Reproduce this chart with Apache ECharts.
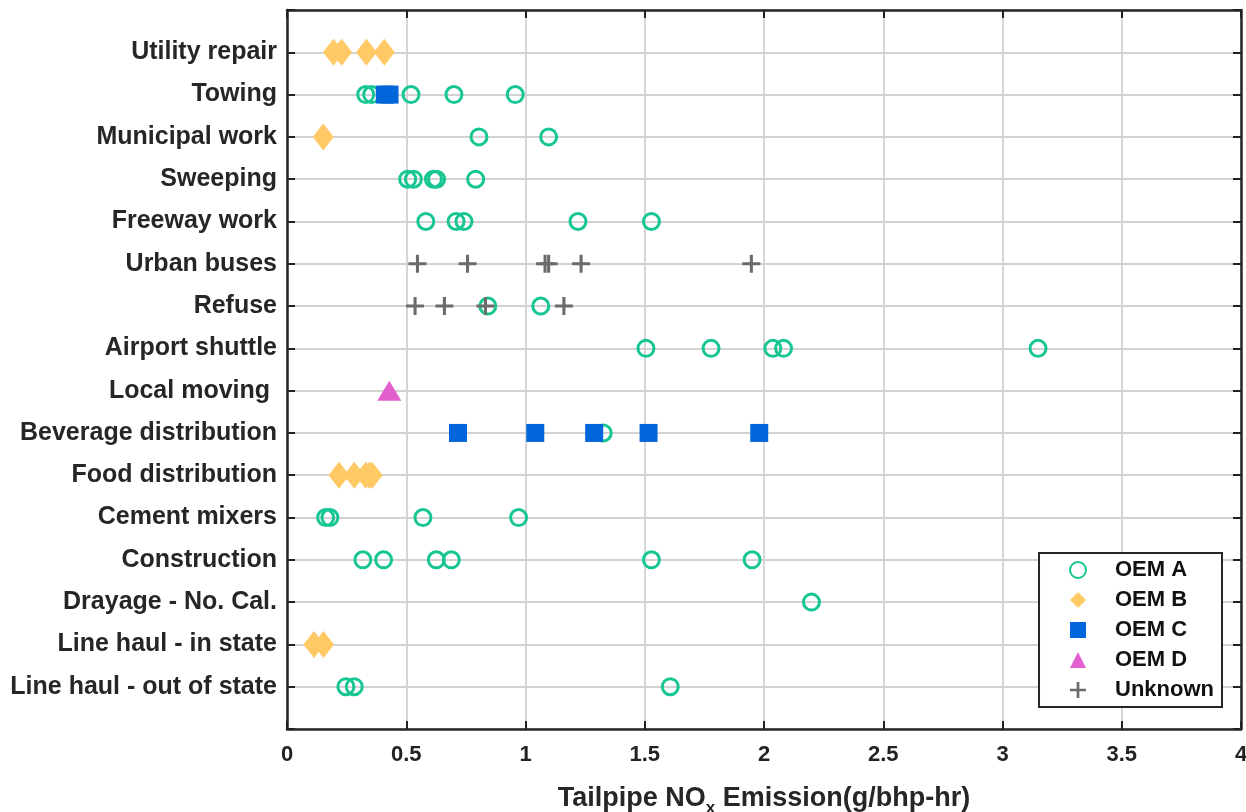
<!DOCTYPE html>
<html>
<head>
<meta charset="utf-8">
<script src="https://cdn.jsdelivr.net/npm/echarts@6/dist/echarts.min.js"></script>
<style>html,body{margin:0;padding:0;background:#fff}#c{width:1246px;height:812px}</style>
</head>
<body>
<div id="c"></div>
<script>
// Categories, top to bottom
const categories = [
  'Utility repair','Towing','Municipal work','Sweeping','Freeway work','Urban buses','Refuse',
  'Airport shuttle','Local moving ','Beverage distribution','Food distribution','Cement mixers',
  'Construction','Drayage - No. Cal.','Line haul - in state','Line haul - out of state'
];
const xTicks = [0, 0.5, 1, 1.5, 2, 2.5, 3, 3.5, 4];

// [category, NOx g/bhp-hr]
const oemA = [
  ['Towing',0.33],['Towing',0.355],['Towing',0.52],['Towing',0.70],['Towing',0.957],
  ['Municipal work',0.805],['Municipal work',1.097],
  ['Sweeping',0.506],['Sweeping',0.53],['Sweeping',0.614],['Sweeping',0.627],['Sweeping',0.791],
  ['Freeway work',0.582],['Freeway work',0.709],['Freeway work',0.742],['Freeway work',1.22],['Freeway work',1.528],
  ['Refuse',0.842],['Refuse',1.064],
  ['Airport shuttle',1.505],['Airport shuttle',1.778],['Airport shuttle',2.037],['Airport shuttle',2.082],['Airport shuttle',3.149],
  ['Beverage distribution',1.326],
  ['Cement mixers',0.162],['Cement mixers',0.18],['Cement mixers',0.57],['Cement mixers',0.971],
  ['Construction',0.318],['Construction',0.405],['Construction',0.626],['Construction',0.689],['Construction',1.528],['Construction',1.95],
  ['Drayage - No. Cal.',2.199],
  ['Line haul - out of state',0.247],['Line haul - out of state',0.282],['Line haul - out of state',1.607]
];
const oemB = [
  ['Utility repair',0.195],['Utility repair',0.229],['Utility repair',0.333],['Utility repair',0.408],
  ['Municipal work',0.152],
  ['Food distribution',0.218],['Food distribution',0.282],['Food distribution',0.33],['Food distribution',0.345],['Food distribution',0.357],
  ['Line haul - in state',0.113],['Line haul - in state',0.153]
];
const oemC = [
  ['Towing',0.41],['Towing',0.43],
  ['Beverage distribution',0.717],['Beverage distribution',1.041],['Beverage distribution',1.288],
  ['Beverage distribution',1.516],['Beverage distribution',1.98]
];
const oemD = [
  ['Local moving ',0.429]
];
const unknown = [
  ['Urban buses',0.547],['Urban buses',0.757],['Urban buses',1.082],['Urban buses',1.097],['Urban buses',1.233],['Urban buses',1.947],
  ['Refuse',0.537],['Refuse',0.66],['Refuse',0.832],['Refuse',1.161]
];

const N = categories.length;
const toPts = arr => arr.map(([c, v]) => [v, N - categories.indexOf(c)]);

const plusPath = 'path://M41.5,0H58.5V41.5H100V58.5H58.5V100H41.5V58.5H0V41.5H41.5Z';
const font = 'Liberation Sans, Arial, sans-serif';

const chart = echarts.init(document.getElementById('c'));
const tickStyle = {show: true, inside: true, length: 8, lineStyle: {color: '#222', width: 2}};
const axisLine = {show: true, onZero: false, lineStyle: {color: '#262626', width: 2.5}};
const gridLine = {show: true, lineStyle: {color: '#d2d2d2', width: 1.8}};

chart.setOption({
  animation: false,
  grid: {left: 287, right: 5, top: 10, bottom: 83, containLabel: false, outerBoundsMode: 'none'},
  xAxis: [{
    type: 'value', min: 0, max: 4, interval: 0.5, position: 'bottom',
    axisLine, axisTick: tickStyle, splitLine: gridLine,
    axisLabel: {color: '#222', fontSize: 22, fontWeight: 'bold', fontFamily: font, margin: 15,
      formatter: v => xTicks.includes(v) ? String(v) : ''},
    name: '{a|Tailpipe NO}{s|x}{a| Emission(g/bhp-hr)}',
    nameLocation: 'middle', nameGap: 55,
    nameTextStyle: {
      rich: {
        a: {fontSize: 27, fontWeight: 'bold', color: '#262626', fontFamily: font, lineHeight: 30},
        s: {fontSize: 17, fontWeight: 'bold', color: '#262626', fontFamily: font, lineHeight: 30, padding: [18, 0, 0, 0]}
      }
    }
  }, {
    type: 'value', min: 0, max: 4, interval: 0.5, position: 'top',
    axisLine, axisTick: tickStyle, splitLine: {show: false}, axisLabel: {show: false}
  }],
  yAxis: [{
    type: 'value', min: 0, max: N + 1, interval: 1, position: 'left',
    axisLine, axisTick: tickStyle, splitLine: gridLine,
    axisLabel: {color: '#262626', fontSize: 25, fontWeight: 'bold', fontFamily: font, margin: 10,
      formatter: v => (v >= 1 && v <= N) ? categories[N - v] : ''}
  }, {
    type: 'value', min: 0, max: N + 1, interval: 1, position: 'right',
    axisLine, axisTick: tickStyle, splitLine: {show: false}, axisLabel: {show: false}
  }],
  legend: {
    orient: 'vertical', right: 24, bottom: 105,
    backgroundColor: '#fff', borderColor: '#262626', borderWidth: 2, borderRadius: 0,
    padding: [6, 8, 6, 30], itemGap: 8, itemWidth: 16, itemHeight: 16,
    textStyle: {fontSize: 22, lineHeight: 22, fontWeight: 'bold', color: '#111', fontFamily: font, padding: [0, 0, 0, 24]},
    data: ['OEM A', 'OEM B', 'OEM C', 'OEM D', 'Unknown']
  },
  series: [
    {name: 'OEM A', type: 'scatter', data: toPts(oemA), symbol: 'circle', symbolSize: 16,
      itemStyle: {color: 'rgba(255,255,255,0)', borderColor: '#17c692', borderWidth: 3, opacity: 1}, z: 2},
    {name: 'OEM B', type: 'scatter', data: toPts(oemB), symbol: 'diamond', symbolSize: [21, 27],
      itemStyle: {color: '#ffc966', opacity: 1}, z: 3},
    {name: 'OEM C', type: 'scatter', data: toPts(oemC), symbol: 'rect', symbolSize: 18,
      itemStyle: {color: '#0066d9', opacity: 1}, z: 3},
    {name: 'OEM D', type: 'scatter', data: toPts(oemD), symbol: 'triangle', symbolSize: [24, 20],
      itemStyle: {color: '#e35fd0', opacity: 1}, z: 3},
    {name: 'Unknown', type: 'scatter', data: toPts(unknown), symbol: plusPath, symbolSize: 18,
      itemStyle: {color: '#6b6b6b', opacity: 1}, z: 4}
  ]
});
</script>
</body>
</html>
